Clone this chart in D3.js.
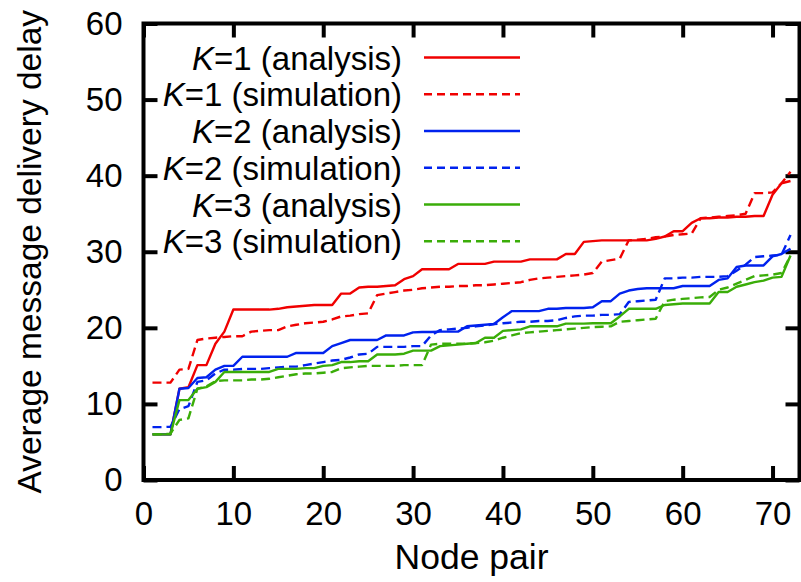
<!DOCTYPE html>
<html lang="en">
<head>
    <meta charset="UTF-8">
    <title>Average message delivery delay per node pair</title>
    <style>
        body {
            margin: 0;
            background: #ffffff;
        }
        svg {
            display: block;
            font-family: "Liberation Sans", Arial, Helvetica, sans-serif;
        }
        .series {
            fill: none;
            stroke-width: 2.4px;
            stroke-linejoin: round;
        }
        .frame {
            fill: none;
            stroke: #000;
            stroke-width: 4px;
        }
        .tick line {
            stroke: #000;
            stroke-width: 4px;
        }
        text {
            font-size: 33px;
            fill: #000;
        }
    </style>
</head>
<body>

<div id="chart"></div>

<script src="https://d3js.org/d3.v7.min.js"></script>
<script>
    // node pair index
    const nodePairs = d3.range(1, 73);

    const k1Analysis = [6, 6, 6, 12, 12.2, 15.1, 15.1, 17.9, 19.5, 22.4,
        22.4, 22.4, 22.4, 22.4, 22.5, 22.7, 22.8, 22.9, 23.0, 23.0,
        23.0, 24.5, 24.5, 25.3, 25.4, 25.4, 25.5, 25.6, 26.4, 26.8,
        27.7, 27.7, 27.7, 27.7, 28.4, 28.4, 28.4, 28.4, 28.7, 28.7,
        28.7, 28.7, 29.0, 29.0, 29.0, 29.0, 29.7, 29.7, 31.3, 31.4,
        31.5, 31.5, 31.5, 31.5, 31.5, 31.5, 31.7, 32.0, 32.7, 32.7,
        33.8, 34.4, 34.4, 34.5, 34.5, 34.6, 34.6, 34.7, 34.7, 37.5,
        39.0, 39.3];

    const k1Simulation = [12.8, 12.8, 12.8, 14.5, 14.6, 18.4, 18.6, 18.7, 18.8, 18.9,
        18.9, 19.5, 19.6, 19.7, 19.7, 20.2, 20.4, 20.6, 20.7, 20.8,
        21.1, 21.5, 21.6, 21.8, 21.9, 24.3, 24.5, 24.7, 24.9, 25.0,
        25.2, 25.3, 25.4, 25.4, 25.5, 25.5, 25.6, 25.6, 25.7, 25.8,
        25.9, 26.0, 26.3, 26.5, 26.6, 26.7, 26.8, 26.9, 27.0, 27.2,
        28.7, 28.9, 29.1, 31.5, 31.6, 31.7, 31.9, 32.0, 32.2, 32.3,
        32.4, 34.4, 34.5, 34.6, 34.7, 34.8, 35.0, 37.7, 37.7, 37.8,
        39.0, 40.5];

    const k2Analysis = [6, 6, 6, 12.0, 12.1, 13.4, 13.5, 14.5, 15.0, 15.0,
        16.2, 16.2, 16.2, 16.2, 16.2, 16.2, 16.7, 16.7, 16.7, 16.7,
        17.6, 18.0, 18.4, 18.4, 18.4, 18.4, 19.0, 19.0, 19.0, 19.4,
        19.45, 19.45, 19.5, 19.5, 19.5, 20.2, 20.3, 20.4, 20.5, 21.4,
        22.2, 22.2, 22.2, 22.2, 22.5, 22.5, 22.6, 22.6, 22.6, 22.7,
        23.5, 23.5, 24.5, 24.9, 25.1, 25.2, 25.2, 25.2, 25.2, 25.5,
        25.5, 25.5, 25.5, 26.3, 26.5, 28.0, 28.2, 28.2, 28.2, 29.4,
        29.7, 30.4];

    const k2Simulation = [6.95, 6.95, 7.0, 9.3, 9.7, 12.9, 13.1, 14.0, 14.5, 14.5,
        14.6, 14.6, 14.6, 14.7, 14.8, 14.9, 14.9, 15.1, 15.3, 15.5,
        15.7, 15.8, 16.1, 16.5, 16.6, 17.5, 17.5, 17.5, 17.5, 17.6,
        17.6, 19.0, 19.7, 19.8, 19.9, 20.0, 20.2, 20.3, 20.5, 20.6,
        20.7, 20.8, 20.8, 20.9, 20.9, 21.0, 21.3, 21.5, 21.6, 21.6,
        21.7, 21.7, 21.8, 23.4, 23.5, 23.6, 23.7, 26.5, 26.5, 26.6,
        26.6, 26.7, 26.7, 26.7, 26.8, 27.5, 28.3, 29.3, 29.4, 29.5,
        29.6, 32.2];

    const k3Analysis = [6, 6, 6, 10.5, 10.5, 12.0, 12.2, 12.9, 14.2, 14.2,
        14.2, 14.2, 14.2, 14.2, 14.6, 14.6, 14.6, 14.7, 14.7, 15.0,
        15.1, 15.5, 15.5, 15.6, 15.6, 16.5, 16.5, 16.5, 16.6, 17.0,
        17.0, 17.0, 17.6, 17.7, 17.8, 17.9, 18.0, 18.7, 18.7, 19.6,
        19.7, 19.8, 20.2, 20.2, 20.2, 20.2, 20.55, 20.55, 20.55, 20.6,
        20.6, 20.6, 21.5, 22.5, 22.5, 22.5, 22.5, 23.0, 23.1, 23.2,
        23.2, 23.2, 23.2, 24.7, 24.7, 25.4, 25.7, 26.0, 26.2, 26.6,
        26.7, 29.5];

    const k3Simulation = [6.0, 6.0, 6.1, 7.9, 8.1, 12.0, 12.3, 13.0, 13.1, 13.1,
        13.1, 13.2, 13.2, 13.3, 13.5, 13.7, 13.9, 14.0, 14.0, 14.1,
        14.2, 14.7, 14.8, 14.9, 15.0, 15.0, 15.0, 15.0, 15.1, 15.1,
        15.1, 17.8, 17.9, 17.9, 17.9, 17.9, 18.0, 18.1, 18.3, 18.7,
        19.0, 19.3, 19.4, 19.5, 19.6, 19.7, 19.8, 19.9, 20.0, 20.1,
        20.15, 20.2, 20.8, 20.9, 21.0, 21.1, 21.2, 23.5, 23.7, 23.8,
        23.9, 24.0, 24.05, 25.0, 25.3, 25.8, 26.3, 26.8, 26.9, 27.0,
        27.2, 29.5];

    const seriesNames = ["1 (analysis)", "1 (simulation)", "2 (analysis)",
        "2 (simulation)", "3 (analysis)", "3 (simulation)"];
    const seriesValues = [k1Analysis, k1Simulation, k2Analysis, k2Simulation, k3Analysis, k3Simulation];
    const seriesColors = ["#f00000", "#f00000", "#0022ee", "#0022ee", "#3aad08", "#3aad08"];
    const seriesDashed = [false, true, false, true, false, true];

    const xTicks = [0, 10, 20, 30, 40, 50, 60, 70];
    const yTicks = [0, 10, 20, 30, 40, 50, 60];

    const width = 801;
    const height = 582;
    const margin = {top: 23.5, right: 1.5, bottom: 102, left: 143.5};

    const svg = d3.select("#chart")
        .append("svg")
        .attr("width", width)
        .attr("height", height);

    const x = d3.scaleLinear()
        .domain([0, 73])
        .range([margin.left, width - margin.right]);

    const y = d3.scaleLinear()
        .domain([0, 60])
        .range([height - margin.bottom, margin.top]);

    const tickLen = 14;

    // bottom and left axes with labels, ticks pointing inward
    svg.append("g")
        .attr("transform", `translate(0,${y(0)})`)
        .call(d3.axisBottom(x).tickValues(xTicks).tickSizeInner(-tickLen).tickSizeOuter(0).tickPadding(22))
        .call(g => g.select(".domain").remove())
        .call(g => g.selectAll("text").attr("font-size", 33).attr("font-family", null));

    svg.append("g")
        .attr("transform", `translate(${x(0)},0)`)
        .call(d3.axisLeft(y).tickValues(yTicks).tickSizeInner(-tickLen).tickSizeOuter(0).tickPadding(21))
        .call(g => g.select(".domain").remove())
        .call(g => g.selectAll("text").attr("font-size", 33).attr("font-family", null));

    // mirrored ticks on top and right
    svg.append("g")
        .attr("transform", `translate(0,${y(60)})`)
        .call(d3.axisTop(x).tickValues(xTicks).tickSizeInner(-tickLen).tickSizeOuter(0).tickFormat(""))
        .call(g => g.select(".domain").remove());

    svg.append("g")
        .attr("transform", `translate(${x(73)},0)`)
        .call(d3.axisRight(y).tickValues(yTicks).tickSizeInner(-tickLen).tickSizeOuter(0).tickFormat(""))
        .call(g => g.select(".domain").remove());

    // series lines
    const line = d3.line()
        .x((d, i) => x(nodePairs[i]))
        .y(d => y(d));

    seriesValues.forEach((vals, i) => {
        svg.append("path")
            .attr("class", "series")
            .attr("stroke", seriesColors[i])
            .attr("stroke-dasharray", seriesDashed[i] ? "9,5" : null)
            .attr("d", line(vals));
    });

    // frame drawn over the lines
    svg.append("rect")
        .attr("class", "frame")
        .attr("x", x(0))
        .attr("y", y(60))
        .attr("width", x(73) - x(0))
        .attr("height", y(0) - y(60));

    // legend
    const legend = svg.append("g");
    seriesNames.forEach((name, i) => {
        const ly = 57.5 + i * 36.75;
        const t = legend.append("text")
            .attr("x", 402)
            .attr("y", ly + 12)
            .attr("text-anchor", "end");
        t.append("tspan").attr("font-style", "italic").text("K");
        t.append("tspan").text("=" + name);

        legend.append("line")
            .attr("x1", 424)
            .attr("x2", 520)
            .attr("y1", ly)
            .attr("y2", ly)
            .attr("stroke", seriesColors[i])
            .attr("stroke-width", 2.4)
            .attr("stroke-dasharray", seriesDashed[i] ? "8,5" : null);
    });

    // axis titles
    svg.append("text")
        .attr("x", (x(0) + x(73)) / 2)
        .attr("y", 569)
        .attr("text-anchor", "middle")
        .style("font-size", "35.5px")
        .text("Node pair");

    svg.append("text")
        .attr("transform", `translate(41,${(y(0) + y(60)) / 2}) rotate(-90)`)
        .attr("text-anchor", "middle")
        .style("font-size", "33.5px")
        .text("Average message delivery delay");
</script>
</body>
</html>
